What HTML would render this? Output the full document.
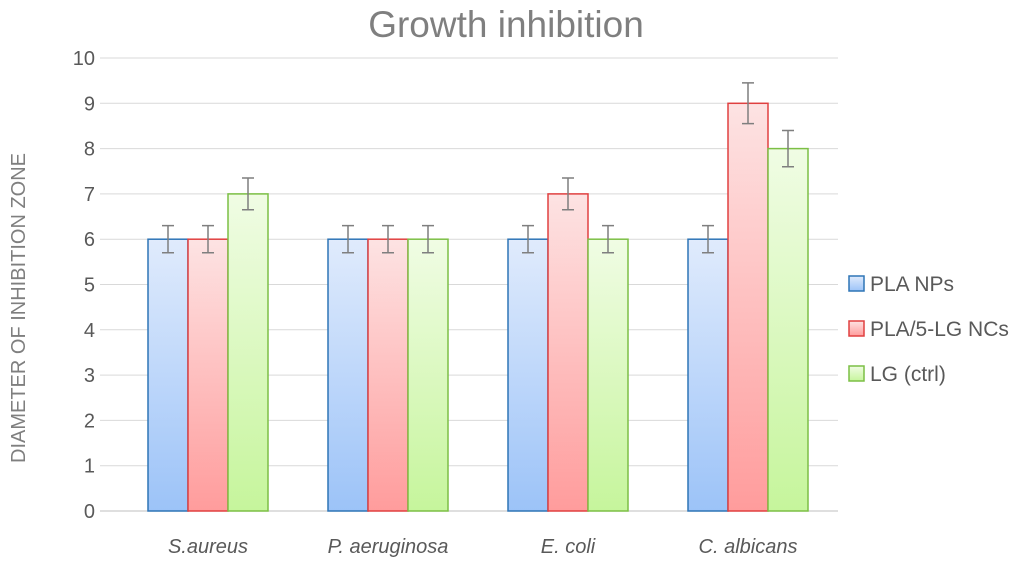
<!DOCTYPE html>
<html><head><meta charset="utf-8"><style>
body{margin:0;background:#fff;}
svg{display:block;font-family:"Liberation Sans",sans-serif;}
</style></head><body>
<svg id="chart" width="1024" height="563">
<defs>
<linearGradient id="gB" x1="0" y1="0" x2="0" y2="1"><stop offset="0" stop-color="#e0ebfc"/><stop offset="1" stop-color="#9cc3f8"/></linearGradient>
<linearGradient id="gR" x1="0" y1="0" x2="0" y2="1"><stop offset="0" stop-color="#fde3e3"/><stop offset="1" stop-color="#ff9c9c"/></linearGradient>
<linearGradient id="gG" x1="0" y1="0" x2="0" y2="1"><stop offset="0" stop-color="#f0fce4"/><stop offset="1" stop-color="#c6f59c"/></linearGradient>
</defs>
<text x="506" y="37" text-anchor="middle" font-size="37" fill="#7f7f7f">Growth inhibition</text>
<text transform="translate(25,308) rotate(-90)" text-anchor="middle" font-size="20" fill="#7f7f7f">DIAMETER OF INHIBITION ZONE</text>
<g id="grid"></g><g id="bars"></g><g id="labels"></g><g id="legend"></g>
</svg>
<script>
const categories=["S.aureus","P. aeruginosa","E. coli","C. albicans"];
const seriesNames=["PLA NPs","PLA/5-LG NCs","LG (ctrl)"];
const plaNPs=[6,6,6,6];
const plaLG=[6,6,7,9];
const lgCtrl=[7,6,6,8];
const errNPs=[0.3,0.3,0.3,0.3];
const errLG=[0.3,0.3,0.35,0.45];
const errCtrl=[0.35,0.3,0.3,0.4];
const yTicks=[0,1,2,3,4,5,6,7,8,9,10];
const NS="http://www.w3.org/2000/svg";
const y0=511,y10=58,x0=118,band=180,bw=40;
const y=v=>y0-(y0-y10)*v/10;
const xc=i=>x0+band*(i+0.5);
function mk(t,a,p){const e=document.createElementNS(NS,t);for(const k in a)e.setAttribute(k,a[k]);p.appendChild(e);return e;}
const grid=document.getElementById('grid');
yTicks.forEach(t=>{
  const l=mk('line',{x1:100,x2:838,y1:y(t),y2:y(t),stroke:t===0?'#bfbfbf':'#d9d9d9','stroke-width':1},grid);
  
  
  const tx=mk('text',{x:95,y:y(t)+7,'text-anchor':'end','font-size':20,fill:'#595959'},grid);
  tx.textContent=t;
  
  
});
const series=[plaNPs,plaLG,lgCtrl],errs=[errNPs,errLG,errCtrl];
const fills=['url(#gB)','url(#gR)','url(#gG)'],strokes=['#2e75b6','#e04040','#7cbf45'];
const bars=document.getElementById('bars');
categories.forEach((c,i)=>{
  series.forEach((s,j)=>{
    const bx=xc(i)-60+j*bw;
    const r=mk('rect',{x:bx,y:y(s[i]),width:bw,height:y0-y(s[i]),fill:fills[j],stroke:strokes[j],'stroke-width':1.5},bars);
    
    
    const cx=bx+bw/2,t=y(s[i]+errs[j][i]),b=y(s[i]-errs[j][i]);
    const g=mk('path',{d:`M${cx},${t}V${b}M${cx-6},${t}H${cx+6}M${cx-6},${b}H${cx+6}`,stroke:'#7f7f7f','stroke-width':1.5,fill:'none'},bars);
    
    
  });
  const tx=mk('text',{x:xc(i),y:553,'text-anchor':'middle','font-size':20,'font-style':'italic',fill:'#595959'},document.getElementById('labels'));
  tx.textContent=c;
  
  
});
const lg=document.getElementById('legend');
seriesNames.forEach((n,j)=>{
  const yy=284+j*45;
  const r=mk('rect',{x:849,y:yy-8,width:15,height:15,fill:fills[j],stroke:strokes[j],'stroke-width':1.5},lg);
  
  
  const t=mk('text',{x:870,y:yy+7,'font-size':21,fill:'#595959'},lg);
  t.textContent=n;
  
  
});
</script>
</body></html>
